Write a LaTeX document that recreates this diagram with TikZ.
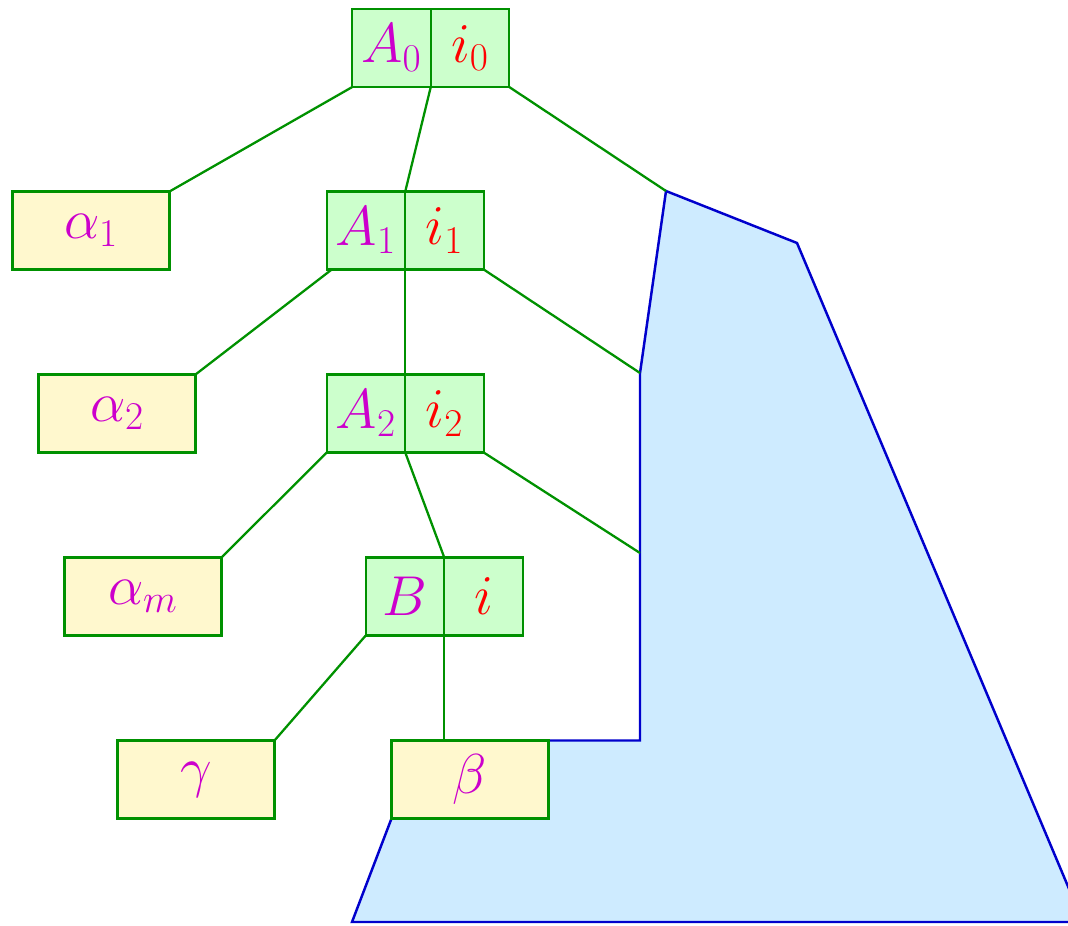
\documentclass[tikz,border=0pt]{standalone}
\usepackage{fix-cm}
\usepackage{amsmath,amssymb}
\usepackage{tikz}
\usetikzlibrary{positioning,calc,backgrounds}
\usepackage{xcolor}

\definecolor{treegreen}{RGB}{0,145,0}
\definecolor{cellgreen}{RGB}{204,255,204}
\definecolor{cellyellow}{RGB}{255,248,206}
\definecolor{regionblue}{RGB}{0,0,204}
\definecolor{regionfill}{RGB}{206,235,255}
\definecolor{symmag}{RGB}{204,0,204}
\definecolor{symred}{RGB}{255,0,0}

\begin{document}
\begin{tikzpicture}[
  half/.style={draw=treegreen, line width=1.4pt, fill=cellgreen, inner sep=0pt,
    outer sep=0pt, minimum width=1.57cm, minimum height=1.56cm,
    font=\fontsize{32}{38}\selectfont},
  leaf/.style={draw=treegreen, line width=1.3pt, fill=cellyellow, inner sep=0pt,
    outer sep=0pt, minimum width=3.14cm, minimum height=1.56cm,
    font=\fontsize{32}{38}\selectfont},
  edge/.style={draw=treegreen, line width=1.3pt},
  region/.style={draw=regionblue, fill=regionfill, line width=1.4pt, line join=miter}
]
\useasboundingbox (0,0) rectangle (21.36,-18.5);
\clip (0,0) rectangle (21.36,-18.5);

% spine of the tree
\node[half] (a0l) at (7.83,-0.96) {$\color{symmag}A_0$};
\node[half, right=0pt of a0l] (a0r) {$\color{symred}i_0$};
\node[half] (a1l) at (7.32,-4.61) {$\color{symmag}A_1$};
\node[half, right=0pt of a1l] (a1r) {$\color{symred}i_1$};
\node[half] (a2l) at (7.32,-8.27) {$\color{symmag}A_2$};
\node[half, right=0pt of a2l] (a2r) {$\color{symred}i_2$};
\node[half] (bl) at (8.10,-11.93) {$\color{symmag}B$};
\node[half, right=0pt of bl] (br) {$\color{symred}i$};

% leaves
\node[leaf] (al1) at (1.82,-4.61) {$\color{symmag}\alpha_1$};
\node[leaf] (al2) at (2.34,-8.27) {$\color{symmag}\alpha_2$};
\node[leaf] (alm) at (2.86,-11.93) {$\color{symmag}\alpha_m$};
\node[leaf] (gam) at (3.92,-15.59) {$\color{symmag}\gamma$};
\node[leaf] (bet) at (9.40,-15.59) {$\color{symmag}\beta$};

% right-hand region
\coordinate (r0) at (13.32,-3.82);
\coordinate (r1) at (12.80,-7.46);
\coordinate (r2) at (12.80,-11.06);
\coordinate (r3) at (bet.north east -| r1);

\begin{scope}[on background layer]
\draw[region] (r0) -- (15.94,-4.86) -- (21.66,-18.44) -- (7.04,-18.44)
  -- (bet.south west) -- (bet.south east) -- (bet.north east) -- (r3) -- (r1) -- cycle;
\draw[edge] (a0l.south west) -- (al1.north east);
\draw[edge] (a0l.south east) -- (a1l.north east);
\draw[edge] (a0r.south east) -- (r0);
\draw[edge] ($(a1l.south west)+(0.1,0)$) -- (al2.north east);
\draw[edge] (a1l.south east) -- (a2l.north east);
\draw[edge] (a1r.south east) -- (r1);
\draw[edge] (a2l.south west) -- (alm.north east);
\draw[edge] (a2l.south east) -- (bl.north east);
\draw[edge] (a2r.south east) -- (r2);
\draw[edge] (bl.south west) -- (gam.north east);
\draw[edge] (bl.south east) -- (bl.south east |- bet.north);
\end{scope}
\end{tikzpicture}
\end{document}
